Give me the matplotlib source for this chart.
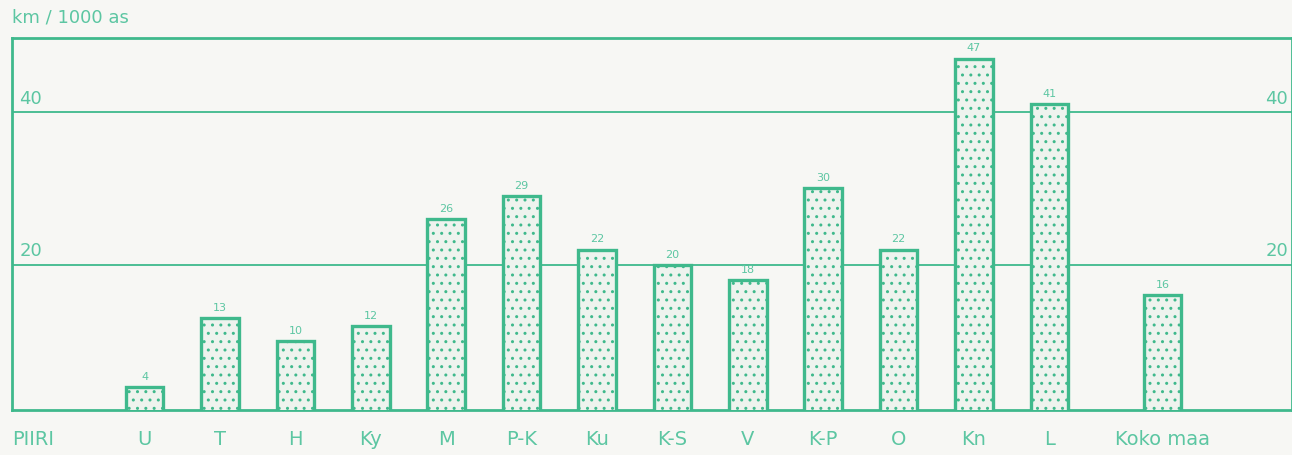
import matplotlib
matplotlib.use("Agg")
import matplotlib.pyplot as plt
import numpy as np

categories = ["U", "T", "H", "Ky", "M", "P-K", "Ku", "K-S", "V", "K-P", "O", "Kn", "L", "Koko maa"]
values = [4, 13, 10, 12, 26, 29, 22, 20, 18, 30, 22, 47, 41, 16]
positions = [1, 2, 3, 4, 5, 6, 7, 8, 9, 10, 11, 12, 13, 14.5]
y_ticks = [20, 40]

GREEN = "#3fb98c"
TEXT = "#5cc6a2"
BG = "#f7f7f4"
FILL = "#eef3ee"

plt.rcParams['font.family'] = ['DejaVu Sans']
plt.rcParams['hatch.color'] = "#8fd0b4"
plt.rcParams['hatch.linewidth'] = 1.0

fig = plt.figure(figsize=(12.92, 4.55), dpi=100, facecolor=BG)
ax = fig.add_axes([12/1292, 1-410/455, 1-12/1292, (410-38)/455])
ax.set_facecolor(BG)

x0 = -0.759
ax.set_xlim(x0, x0 + 1280/75.4)
ax.set_ylim(1.0, 49.7)

for t in y_ticks:
    ax.axhline(t, color=GREEN, lw=1.3, zorder=1)
    ax.text(x0 + 0.1, t + 0.6, str(t), color=TEXT, fontsize=13, ha="left", va="bottom")
    ax.text(x0 + 1280/75.4 - 0.05, t + 0.6, str(t), color=TEXT, fontsize=13, ha="right", va="bottom")

bars = ax.bar(positions, values, width=0.5, bottom=0, facecolor=FILL, edgecolor=GREEN,
              linewidth=2.4, hatch="..", zorder=3)
for p, v in zip(positions, values):
    ax.text(p, v + 0.7, str(v), color=TEXT, fontsize=8, ha="center", va="bottom")

for s in ax.spines.values():
    s.set_color(GREEN)
    s.set_linewidth(2.0)
ax.set_xticks([])
ax.set_yticks([])

for p, c in zip(positions, categories):
    ax.text(p, -0.055, c, transform=ax.get_xaxis_transform(), color=TEXT, fontsize=14,
            ha="center", va="top")
ax.text(0.0, -0.055, "PIIRI", transform=ax.transAxes, color=TEXT, fontsize=14,
        ha="left", va="top")

fig.text(12/1292, 1-8/455, "km / 1000 as", color=TEXT, fontsize=13, ha="left", va="top")

fig.savefig("out.png", dpi=100, facecolor=BG)
